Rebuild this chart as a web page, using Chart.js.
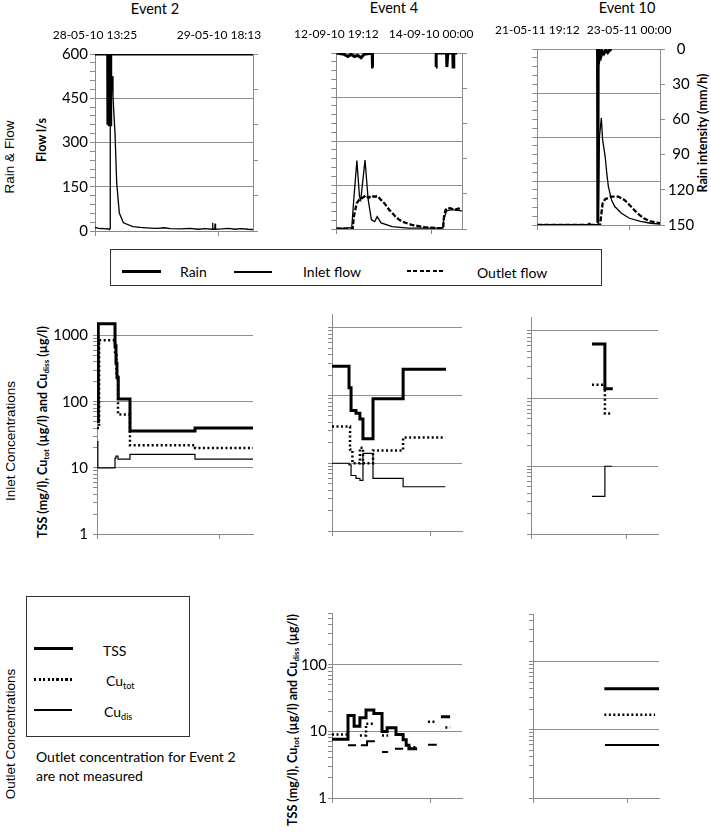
<!DOCTYPE html>
<html>
<head>
<meta charset="utf-8">
<script src="https://cdn.jsdelivr.net/npm/chart.js@4.4.1/dist/chart.umd.min.js"></script>
<style>
body { margin: 0; background: #fff; }
#page { position: relative; width: 711px; height: 840px; overflow: hidden; font-family: Lato, "Open Sans", sans-serif; color: #000; }
#page canvas { position: absolute; }
.t { position: absolute; white-space: nowrap; line-height: 1; }
.c { transform: translate(-50%, -50%); }
.l { transform: translate(0, -50%); font-size: 14px; }
.r { transform: translate(-50%, -50%) rotate(-90deg); }
.b { font-weight: bold; font-size: 12.5px; }
.arial { font-family: "Liberation Sans", Arial, sans-serif; font-size: 13.5px; }
.box { position: absolute; border: 1.5px solid #333; box-sizing: border-box; }
.mark { position: absolute; background: #000; }
sub { font-size: 65%; vertical-align: -0.3em; line-height: 0; }
</style>
</head>
<body>
<div id="page">
  <!-- titles -->
  <div class="t c" style="left:155px;top:9px;font-size:14.5px">Event 2</div>
  <div class="t c" style="left:394px;top:8px;font-size:14.5px">Event 4</div>
  <div class="t c" style="left:627px;top:8px;font-size:14.5px">Event 10</div>

  <!-- side labels -->
  <div class="t r arial" style="left:10px;top:157px">Rain &amp; Flow</div>
  <div class="t r b" style="left:42px;top:140px">Flow l/s</div>
  <div class="t r b" style="left:703px;top:133px">Rain intensity (mm/h)</div>
  <div class="t r arial" style="left:11px;top:441px">Inlet Concentrations</div>
  <div class="t r b" style="left:43px;top:432px">TSS (mg/l), Cu<sub>tot</sub> (µg/l) and Cu<sub>diss</sub> (µg/l)</div>
  <div class="t r arial" style="left:11px;top:734px">Outlet Concentrations</div>
  <div class="t r b" style="left:293px;top:720px">TSS (mg/l), Cu<sub>tot</sub> (µg/l) and Cu<sub>diss</sub> (µg/l)</div>

  <!-- flow legend -->
  <div class="box" style="left:110px;top:249px;width:492px;height:37px"></div>
  <div class="mark" style="left:122px;top:270px;width:39px;height:3px"></div>
  <div class="t l" style="left:180px;top:272px">Rain</div>
  <div class="mark" style="left:234px;top:271px;width:38px;height:2px"></div>
  <div class="t l" style="left:303px;top:272px">Inlet flow</div>
  <div class="mark" style="left:407px;top:270px;width:38px;height:2px;background:repeating-linear-gradient(90deg,#000 0 4px,transparent 4px 6.5px)"></div>
  <div class="t l" style="left:477px;top:273px">Outlet flow</div>

  <!-- concentration legend -->
  <div class="box" style="left:26px;top:596px;width:164px;height:141px"></div>
  <div class="mark" style="left:34px;top:647px;width:39px;height:3px"></div>
  <div class="t l" style="left:103px;top:651px">TSS</div>
  <div class="mark" style="left:34px;top:678px;width:39px;height:2.5px;background:repeating-linear-gradient(90deg,#000 0 2px,transparent 2px 4.5px)"></div>
  <div class="t l" style="left:106px;top:681px">Cu<sub>tot</sub></div>
  <div class="mark" style="left:34px;top:709px;width:38px;height:2px"></div>
  <div class="t l" style="left:104px;top:712px">Cu<sub>dis</sub></div>
  <div class="t l" style="left:36px;top:757px">Outlet concentration for Event 2</div>
  <div class="t l" style="left:36px;top:776px">are not measured</div>
</div>

<script>
// Time axis: hours after the first date label of each event
const evMaxH = [36.7, 38.2, 38.5];
const tickHours = [0, 28.8];
const dateLabels = [
    ['28-05-10 13:25', '29-05-10 18:13'],
    ['12-09-10 19:12', '14-09-10 00:00'],
    ['21-05-11 19:12', '23-05-11 00:00']
];
const flowTicks = [0, 150, 300, 450, 600];
const flowMinorStep = 30;
const rainTicks = [0, 30, 60, 90, 120, 150];
const concTicks = [1, 10, 100, 1000];

// ---- Rain (mm/h) and flow (l/s) ----
const e2RainT = [0, 2.95, 3.0, 3.15, 3.3, 3.45, 3.6, 3.65, 36.7];
const e2RainV = [0, 0, 60, 45, 60, 50, 60, 0, 0];
const e2InT = [0, 0.6, 1.2, 1.8, 2.3, 2.9, 3.4, 3.5, 3.55, 3.95, 4.18, 4.65, 5.04, 5.65, 6.6, 8.8, 10.5, 12.8, 14.5, 16.0, 17.5, 20.0, 22.0, 24.0, 25.5, 27.2, 27.3, 27.4, 27.8, 27.9, 28.0, 29.5, 31.0, 32.5, 34.0, 35.5, 36.7];
const e2InV = [12, 10, 8, 9, 7, 8, 5, 10, 450, 525, 455, 330, 163, 61, 28, 15, 12, 10, 9, 11, 8, 7, 9, 6, 8, 6, 28, 6, 6, 25, 6, 7, 9, 6, 8, 6, 5];

const e4RainT = [0, 2.3, 3.5, 4.5, 5.5, 6.5, 7.5, 8.5, 10.9, 11.0, 11.3, 11.35, 30.3, 30.35, 33.5, 33.6, 33.9, 35.4, 35.5, 35.7, 36.7];
const e4RainV = [0, 1, 3, 1, 3, 2, 4, 1, 0, 12, 12, null, 12, 0, 0, 12, 0, 0, 12, 0, 0];
const e4InT = [0, 2.0, 4.7, 5.3, 6.26, 7.05, 7.43, 8.73, 9.7, 10.67, 11.66, 12.43, 13.6, 17.0, 21.9, 27.0, 32.4, 32.6, 33.5, 35.0, 38.2];
const e4InV = [3, 2, 5, 99, 233, 110, 99, 235, 99, 31, 25, 42, 21, 8, 3, 3, 3, 30, 62, 66, 62];
const e4OutT = [0, 5.0, 5.3, 6.2, 7.0, 8.2, 9.0, 9.8, 10.7, 11.5, 12.6, 13.5, 14.6, 16.1, 17.0, 18.0, 19.0, 20.0, 22.9, 26.8, 30.8, 32.5, 32.7, 33.2, 34.0, 34.7, 36.0, 37.2, 38.1];
const e4OutV = [1, 1, 40, 88, 100, 108, 115, 106, 114, 110, 112, 100, 88, 65, 55, 42, 33, 25, 14, 6, 3, 3, 40, 65, 72, 70, 66, 70, 65];

const e10RainT = [18.9, 19.0, 19.1, 19.4, 19.7, 20.0, 20.4, 20.9, 21.5, 22.1, 22.7, 23.3];
const e10RainV = [0, 148, 14, 8, 3, 6, 2, 4, 1, 3, 1, 0];
const e10InT = [0, 10.0, 18.9, 19.1, 19.5, 20.1, 20.5, 21.3, 21.8, 22.3, 23.3, 24.3, 26.4, 28.9, 32.4, 35.5, 38.5];
const e10InV = [1, 1, 1, 4, 300, 365, 290, 233, 176, 131, 85, 63, 40, 23, 12, 6, 3];
const e10OutT = [0, 16.2, 16.4, 16.6, 19.7, 20.5, 21.3, 23.3, 25.4, 27.4, 29.4, 31.4, 33.4, 35.5, 38.5];
const e10OutV = [0, 0, 8, 0, 0, 74, 88, 97, 97, 85, 63, 40, 23, 12, 6];

// ---- Inlet concentrations (TSS mg/l, Cu ug/l) ----
const e2TssInT = [0, 0.3, 4.24, 4.47, 4.7, 5.0, 7.76, 23.06, 36.7];
const e2TssInV = [50, 1500, 700, 380, 230, 110, 36, 40, 40];
const e2CutInT = [0, 0.5, 4.24, 4.6, 4.94, 7.76, 23.06, 36.7];
const e2CutInV = [40, 850, 500, 250, 64, 22, 20, 20];
const e2CudInT = [0, 0.2, 4.24, 4.47, 4.94, 7.76, 23.06, 36.7];
const e2CudInV = [25, 10, 14, 15, 13.5, 16, 13.5, 13.5];

const e4TssInT = [0, 5.0, 5.6, 7.05, 8.2, 9.1, 12.05, 20.9, 33.5];
const e4TssInV = [270, 130, 60, 55, 45, 23, 90, 245, 245];
const e4CutInT = [0, 5.3, 6.0, 8.2, 9.1, 12.05, 20.9, 33.3];
const e4CutInV = [35, 16, 10, 17, 10, 15.5, 24, 24];
const e4CudInT = [0, 5.0, 5.6, 7.05, 8.2, 9.1, 12.05, 20.9, 33.3];
const e4CudInV = [10, 9.5, 6.6, 6.0, 5.6, 14, 6.0, 4.5, 4.5];

const e10TssInT = [18.5, 22.4, 24.8];
const e10TssInV = [640, 140, 140];
const e10CutInT = [18.5, 22.4, 24.5];
const e10CutInV = [160, 60, 60];
const e10CudInT = [18.5, 22.4, 24.5];
const e10CudInV = [3.6, 10, 10];

// ---- Outlet concentrations ----
const e4TssOutT = [0, 4.7, 6.5, 8.2, 10.0, 12.3, 14.7, 16.2, 18.8, 20.9, 21.8, 22.6, 25.0, 25.05, 32.0, 34.7];
const e4TssOutV = [7.6, 17.4, 12, 16, 21, 18.5, 10, 11.3, 9, 7.5, 6.2, 5.5, 5.5, null, 16.6, 16.6];
const e4CutOutT = [0, 4.4, 4.5, 8.2, 10.0, 12.6, 12.7, 14.7, 16.5, 16.6, 22.6, 25.0, 25.1, 28.2, 30.3, 30.4, 33.3, 34.7];
const e4CutOutV = [9, 9, null, 8.7, 13, 13, null, 8.7, 8.7, null, 5.8, 5.8, null, 14, 14, null, 11.4, 11.4];
const e4CudOutT = [4.7, 7.05, 7.1, 8.5, 10.3, 12.6, 12.7, 14.7, 16.5, 16.6, 18.5, 20.9, 21.0, 28.2, 30.8];
const e4CudOutV = [6.2, 6.2, null, 6.2, 7.1, 7.1, null, 4.9, 4.9, null, 5.5, 5.5, null, 6.3, 6.3];

const e10TssOutT = [21.8, 38.5];
const e10TssOutV = [40, 40];
const e10CutOutT = [21.8, 37.3];
const e10CutOutV = [16.6, 16.6];
const e10CudOutT = [22.0, 38.5];
const e10CudOutV = [6, 6];

// Styles
const AXIS = '#8a8a8a';
const GRID = '#8f8f8f';
const NONE = 'rgba(0,0,0,0)';

Chart.defaults.font.family = 'Lato, "Open Sans", sans-serif';
Chart.defaults.color = '#000';

function pts(t, v)
{
    return t.map(function (x, i) { return {x: x, y: v[i]}; });
}

function line(t, v, width, dash, yId, stepped)
{
    return {
        data: pts(t, v),
        borderColor: '#000',
        borderWidth: width,
        borderDash: dash || [],
        yAxisID: yId,
        xAxisID: 'x',
        stepped: stepped || false,
        spanGaps: false,
        pointRadius: 0,
        fill: false
    };
}

// Bottom time axis: only tick marks
function timeAxis(col, mb)
{
    return {
        type: 'linear', position: 'bottom', min: 0, max: evMaxH[col],
        afterBuildTicks: function (s) { s.ticks = tickHours.map(function (v) { return {value: v}; }); },
        afterFit: function (s) { s.height = mb; },
        ticks: {display: false},
        grid: {drawOnChartArea: false, color: AXIS, tickLength: 5},
        border: {color: AXIS}
    };
}

// Top axis carrying the date labels
function dateAxis(col, mt)
{
    return {
        type: 'linear', axis: 'x', position: 'top', min: 0, max: evMaxH[col],
        afterBuildTicks: function (s) { s.ticks = tickHours.map(function (v) { return {value: v}; }); },
        afterFit: function (s) { s.height = mt; },
        ticks: {
            callback: function (v, i) { return dateLabels[col][i]; },
            padding: 12, maxRotation: 0, autoSkip: false, font: {size: 12}
        },
        grid: {display: false, drawTicks: false},
        border: {display: false}
    };
}

function flowAxis(showLabels, ml)
{
    return {
        type: 'linear', position: 'left', min: 0, max: 600,
        afterBuildTicks: function (s) {
            const t = [];
            for (let v = 0; v <= 600; v += flowMinorStep) t.push({value: v});
            s.ticks = t;
        },
        afterFit: function (s) { s.width = ml; },
        ticks: {
            display: showLabels, autoSkip: false, padding: 2, font: {size: 15},
            callback: function (v) { return flowTicks.includes(v) ? String(v) : ''; }
        },
        grid: {
            color: function (c) { return c.tick && flowTicks.includes(c.tick.value) ? GRID : NONE; },
            tickColor: AXIS, tickLength: 5
        },
        border: {color: AXIS}
    };
}

function rainAxis(showLabels, mr)
{
    return {
        type: 'linear', position: 'right', reverse: true, min: 0, max: 150,
        afterBuildTicks: function (s) { s.ticks = rainTicks.map(function (v) { return {value: v}; }); },
        afterFit: function (s) { s.width = mr; },
        ticks: {display: showLabels, autoSkip: false, padding: 3, crossAlign: 'center', font: {size: 15}},
        grid: {drawOnChartArea: false, color: AXIS, tickLength: 5},
        border: {color: AXIS}
    };
}

function concAxis(max, showLabels, ml, pad)
{
    return {
        type: 'logarithmic', position: 'left', min: 1, max: max,
        afterBuildTicks: function (s) {
            const t = [];
            for (let e = 1; e <= max; e *= 10)
                for (let k = 1; k < 10; k++)
                    if (k * e <= max) t.push({value: k * e});
            s.ticks = t;
        },
        afterFit: function (s) { s.width = ml; },
        ticks: {
            display: showLabels, autoSkip: false, padding: pad, font: {size: 15},
            callback: function (v) { return concTicks.includes(v) ? String(v) : ''; }
        },
        grid: {
            color: function (c) { return c.tick && concTicks.includes(c.tick.value) ? GRID : NONE; },
            tickColor: AXIS, tickLength: 4
        },
        border: {color: AXIS}
    };
}

// Place a canvas so that its chart area lands on box
function makeChart(box, m, scales, datasets, pad)
{
    const c = document.createElement('canvas');
    const w = box.w + m.l + m.r, h = box.h + m.t + m.b;
    c.width = w;
    c.height = h;
    c.style.left = (box.l - m.l) + 'px';
    c.style.top = (box.t - m.t) + 'px';
    c.style.width = w + 'px';
    c.style.height = h + 'px';
    document.getElementById('page').appendChild(c);

    return new Chart(c.getContext('2d'), {
        type: 'line',
        data: {datasets: datasets},
        options: {
            responsive: false,
            animation: false,
            devicePixelRatio: 1,
            layout: {padding: pad},
            plugins: {legend: {display: false}, tooltip: {enabled: false}},
            elements: {line: {tension: 0, borderCapStyle: 'butt', borderJoinStyle: 'miter'}, point: {radius: 0}},
            scales: scales
        }
    });
}

// Rain & flow row
function flowPanel(col, box, m, leftLabels, rightLabels, rainT, rainV, inT, inV, outT, outV)
{
    const ds = [line(rainT, rainV, 3, null, 'y2')];
    ds.push(line(inT, inV, 1.3, null, 'y'));
    if (outT) ds.push(line(outT, outV, 2.3, [5, 2], 'y'));

    makeChart(box, m, {
        x: timeAxis(col, m.b),
        xTop: dateAxis(col, m.t),
        y: flowAxis(leftLabels, m.l),
        y2: rainAxis(rightLabels, m.r)
    }, ds, {left: 0, top: 0, right: 0, bottom: 0});
}

// Concentration rows
function concPanel(col, box, m, max, showLabels, labelPad, cudWidth, series)
{
    const ds = [
        line(series[0], series[1], 3, null, 'y', true),
        line(series[2], series[3], 2.5, [2, 2.5], 'y', true),
        line(series[4], series[5], cudWidth, null, 'y', true)
    ];
    makeChart(box, m, {
        x: timeAxis(col, m.b),
        y: concAxis(max, showLabels, m.l, labelPad)
    }, ds, {left: 0, top: m.t, right: m.r, bottom: 0});
}

flowPanel(0, {l: 95, t: 54, w: 158, h: 177}, {l: 60, t: 30, r: 30, b: 12}, true, false,
    e2RainT, e2RainV, e2InT, e2InV, null, null);
flowPanel(1, {l: 332, t: 53, w: 130, h: 176}, {l: 50, t: 30, r: 30, b: 12}, false, false,
    e4RainT, e4RainV, e4InT, e4InV, e4OutT, e4OutV);
flowPanel(2, {l: 533, t: 49, w: 127, h: 176}, {l: 50, t: 30, r: 40, b: 12}, false, true,
    e10RainT, e10RainV, e10InT, e10InV, e10OutT, e10OutV);

concPanel(0, {l: 97, t: 318, w: 156, h: 218}, {l: 60, t: 10, r: 10, b: 12}, 1600, true, 5, 1.2,
    [e2TssInT, e2TssInV, e2CutInT, e2CutInV, e2CudInT, e2CudInV]);
concPanel(1, {l: 332, t: 314, w: 130, h: 217}, {l: 20, t: 10, r: 10, b: 12}, 1600, false, 5, 1.2,
    [e4TssInT, e4TssInV, e4CutInT, e4CutInV, e4CudInT, e4CudInV]);
concPanel(2, {l: 531, t: 317, w: 127, h: 217}, {l: 20, t: 10, r: 10, b: 12}, 1600, false, 5, 1.2,
    [e10TssInT, e10TssInV, e10CutInT, e10CutInV, e10CudInT, e10CudInV]);

concPanel(1, {l: 332, t: 613, w: 130, h: 185}, {l: 40, t: 10, r: 10, b: 12}, 600, true, 1, 2,
    [e4TssOutT, e4TssOutV, e4CutOutT, e4CutOutV, e4CudOutT, e4CudOutV]);
concPanel(2, {l: 533, t: 614, w: 126, h: 184}, {l: 20, t: 10, r: 10, b: 12}, 500, false, 1, 2,
    [e10TssOutT, e10TssOutV, e10CutOutT, e10CutOutV, e10CudOutT, e10CudOutV]);
</script>
</body>
</html>
